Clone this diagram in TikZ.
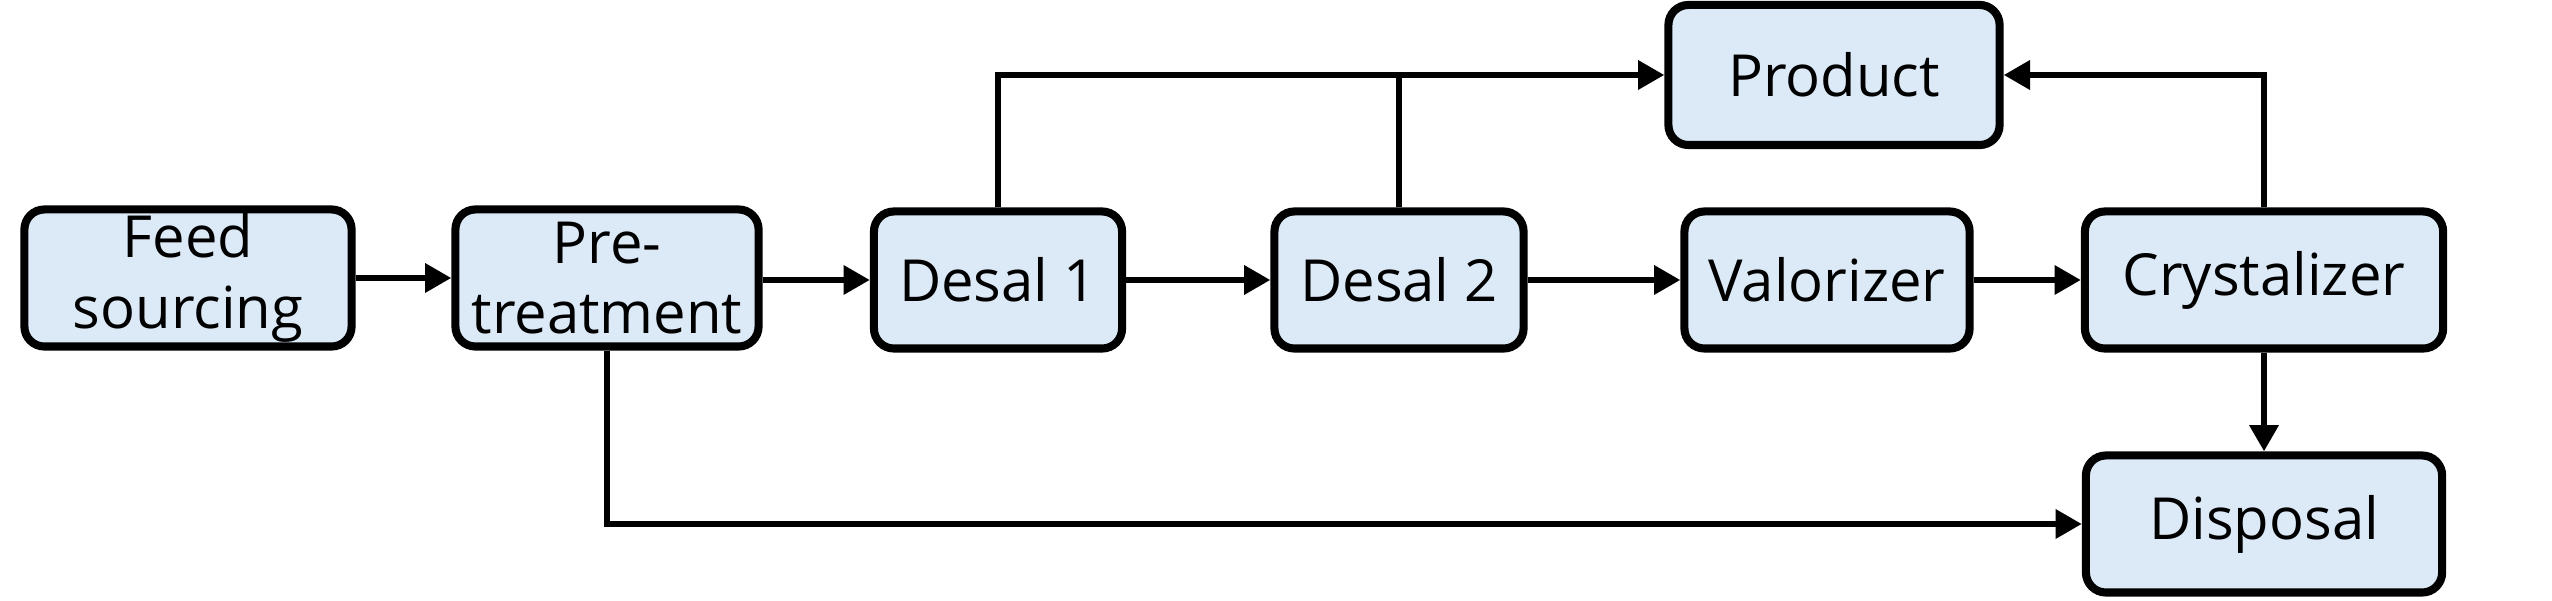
\documentclass[tikz,border=0pt]{standalone}
\usepackage{fontspec}
\setmainfont{Open Sans}
\usepackage{tikz}
\usetikzlibrary{arrows.meta,positioning}
\definecolor{boxfill}{HTML}{DCE9F6}
\tikzset{
    >={Triangle[length=7.5pt,width=8pt]},
    unit/.style={
        rectangle,
        rounded corners=0.2cm,
        draw=black, line width=2.3pt,
        fill=boxfill,
        minimum height=1.37cm,
        align=center,
        inner sep=0pt,
        font=\fontsize{16.5}{20}\selectfont
    },
    line/.style={draw, line width=1.8pt, ->},
    feeder/.style={draw, line width=1.8pt}
}
\begin{document}
\begin{tikzpicture}[x=0.01cm,y=-0.01cm]
    \useasboundingbox (0,0) rectangle (2552,601);

    \node[unit, minimum width=3.27cm] (feed) at (188,278) {Feed\\sourcing};
    \node[unit, minimum width=3.03cm] (pretreat) at (607,278) {Pre-\\treatment};
    \node[unit, minimum width=2.48cm] (desalA) at (998,280) {Desal 1};
    \node[unit, minimum width=2.49cm] (desalB) at (1399,280) {Desal 2};
    \node[unit, minimum width=2.85cm] (valor) at (1827,280) {Valorizer};
    \node[unit, minimum width=3.58cm] (cryst) at (2264,280) {Crystalizer};
    \node[unit, minimum width=3.31cm, minimum height=1.40cm] (product) at (1834,75) {Product};
    \node[unit, minimum width=3.56cm] (disposal) at (2264,524) {Disposal};

    % -- Connections -- %

    \path[line] (feed.east) -- (pretreat.west);
    \path[line] (pretreat.east |- desalA) -- (desalA.west);
    \path[line] (desalA) -- (desalB);
    \path[line] (desalB) -- (valor);
    \path[line] (valor) -- (cryst);
    \path[line] (desalA.north) |- (product.west);
    \path[feeder] (desalB.north) -- (desalB.north |- product.west);
    \path[line] (cryst.north) |- (product.east);
    \path[line] (cryst.south) -- (disposal.north);
    \path[line] (pretreat.south) |- (disposal.west);
\end{tikzpicture}
\end{document}
